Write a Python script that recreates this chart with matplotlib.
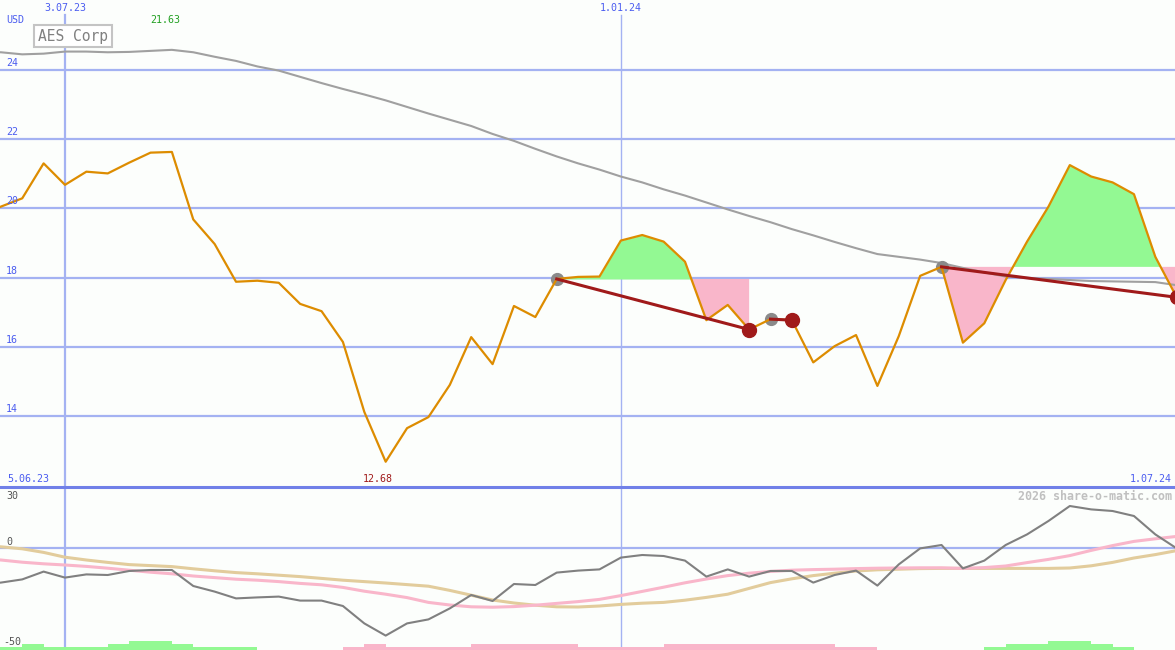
import numpy as np
import pandas as pd
import matplotlib
matplotlib.use("Agg")
import matplotlib.pyplot as plt

# weekly closes, starting 5.06.23
start_date = "2023-06-05"
price = [19.8, 20.05, 20.29, 21.30, 20.68, 21.06, 21.01, 21.32, 21.61, 21.63,
         19.68, 18.97, 17.88, 17.91, 17.85, 17.24, 17.03, 16.14, 14.12, 12.68,
         13.65, 13.97, 14.90, 16.28, 15.50, 17.18, 16.86, 17.96, 18.02, 18.03,
         19.07, 19.23, 19.04, 18.46, 16.77, 17.21, 16.50, 16.80, 16.77, 15.55,
         16.02, 16.34, 14.87, 16.31, 18.05, 18.31, 16.12, 16.68, 17.93, 19.04,
         20.05, 21.25, 20.92, 20.75, 20.41, 18.60, 17.43]
moving_avg = [24.50, 24.51, 24.45, 24.47, 24.53, 24.53, 24.51, 24.52, 24.55, 24.58,
              24.51, 24.38, 24.26, 24.10, 23.98, 23.80, 23.62, 23.45, 23.29, 23.12,
              22.93, 22.74, 22.56, 22.38, 22.15, 21.95, 21.72, 21.50, 21.30, 21.12,
              20.92, 20.75, 20.55, 20.37, 20.17, 19.97, 19.78, 19.60, 19.40, 19.22,
              19.03, 18.85, 18.68, 18.60, 18.52, 18.42, 18.28, 18.15, 18.03, 17.99,
              17.96, 17.93, 17.90, 17.89, 17.88, 17.87, 17.78]
oscillator = [-18.0, -17.3, -15.7, -11.8, -14.8, -13.2, -13.5, -11.5, -11.0, -11.0,
              -19.0, -21.8, -25.2, -24.7, -24.3, -26.3, -26.3, -29.0, -37.7, -43.8,
              -37.7, -35.7, -30.2, -23.5, -26.5, -18.0, -18.5, -12.3, -11.3, -10.7,
              -4.8, -3.5, -4.0, -6.3, -14.3, -10.7, -14.3, -11.5, -11.5, -17.3,
              -13.5, -11.3, -18.8, -8.2, -0.2, 1.5, -10.2, -6.3, 1.5, 6.8,
              13.5, 21.0, 19.3, 18.5, 16.0, 6.8, -0.2]
signal_fast = [-5.5, -6.0, -7.1, -7.9, -8.5, -9.2, -10.1, -11.1, -12.1, -12.9,
               -14.0, -14.8, -15.6, -16.1, -16.8, -17.7, -18.4, -19.7, -21.6, -23.1,
               -24.8, -27.2, -28.5, -29.4, -29.6, -29.3, -28.6, -27.7, -26.8, -25.7,
               -23.8, -21.7, -19.6, -17.4, -15.5, -13.8, -12.6, -11.7, -11.1, -10.8,
               -10.6, -10.3, -10.1, -10.0, -9.9, -9.9, -10.2, -9.8, -9.0, -7.3,
               -5.7, -3.8, -1.2, 1.2, 3.3, 4.6, 5.8]
signal_slow = [1.2, 0.6, -0.4, -2.2, -4.6, -6.0, -7.2, -8.3, -8.8, -9.3,
               -10.4, -11.4, -12.3, -12.9, -13.6, -14.3, -15.2, -16.1, -16.8, -17.5,
               -18.3, -19.1, -21.2, -23.6, -26.0, -27.5, -28.6, -29.4, -29.5, -29.0,
               -28.2, -27.6, -27.2, -26.1, -24.7, -23.1, -20.2, -17.3, -15.4, -13.8,
               -12.6, -11.5, -10.9, -10.6, -10.3, -10.2, -10.2, -10.2, -10.2, -10.2,
               -10.2, -10.0, -8.9, -7.2, -5.0, -3.3, -1.3]
hist = [1.5, 1.5, 3.0, 1.5, 1.5, 1.5, 3.0, 4.5, 4.5, 3.0,
        1.5, 1.5, 1.5, 0, 0, 0, 0, -1.5, -3.0, -1.5,
        -1.5, -1.5, -1.5, -3.0, -3.0, -3.0, -3.0, -3.0, -1.5, -1.5,
        -1.5, -1.5, -3.0, -3.0, -3.0, -3.0, -3.0, -3.0, -3.0, -3.0,
        -1.5, -1.5, 0, 0, 0, 0, 0, 1.5, 3.0, 3.0,
        4.5, 4.5, 3.0, 1.5, 0, 0, 0]
# (start index, end index) of the signal segments
segments = [(27, 36), (37, 38), (45, 56)]
price_ticks = [14, 16, 18, 20, 22, 24]
date_marks = ["2023-07-03", "2024-01-01"]
low_label, high_label = "12.68", "21.63"

dates = pd.date_range(start_date, periods=len(price), freq="7D")
price = np.array(price)

W, H = 1175, 650
fig = plt.figure(figsize=(W / 100, H / 100), dpi=100)
bg = "#fcfefc"
fig.patch.set_facecolor(bg)
split = 487
ax = fig.add_axes([0, (H - split) / H, 1, split / H])
ax2 = fig.add_axes([0, 0, 1, (H - split) / H])

day = pd.Timedelta(days=7)
x0 = dates[0] + 0.96 * day
x1 = dates[0] + 55.92 * day
grid_c = "#a4b2f2"
blue = "#4a5cf0"

for a in (ax, ax2):
    a.set_facecolor(bg)
    a.set_xlim(x0, x1)
    for s in a.spines.values():
        s.set_visible(False)
    a.set_xticks([])
    a.set_yticks([])

ax.set_ylim(11.95, 26.02)
ax2.set_ylim(-51, 30.5)

for t in price_ticks:
    ax.axhline(t, color=grid_c, lw=1.6, zorder=1)
for i, d in enumerate(date_marks):
    lw = 1.6 if i == 0 else 1.0
    ax.axvline(pd.Timestamp(d), ymax=0.969, color=grid_c, lw=lw, zorder=1)
    ax2.axvline(pd.Timestamp(d), color=grid_c, lw=lw, zorder=1)

# signal fills and trend lines
for s, e in segments:
    xs = dates[s:e + 1]
    ys = price[s:e + 1]
    base = price[s]
    ax.fill_between(xs, ys, base, where=ys >= base, interpolate=True,
                    color="#93f993", lw=0, zorder=2)
    ax.fill_between(xs, ys, base, where=ys <= base, interpolate=True,
                    color="#f9b6ca", lw=0, zorder=2)

ax.plot(dates, moving_avg, color="#a0a0a0", lw=1.5, zorder=3)
ax.plot([dates[s] for s, e in segments], [price[s] for s, e in segments], "o",
        color="#8a8a8a", ms=8.5, zorder=4)
ax.plot(dates, price, color="#dd8c00", lw=1.6, zorder=5)
for s, e in segments:
    ax.plot([dates[s], dates[e]], [price[s], price[e]], color="#a01a1a", lw=2.2, zorder=6)
ax.plot([dates[e] for s, e in segments], [price[e] for s, e in segments], "o",
        color="#a01a1a", ms=10, zorder=7)

# lower panel
ax2.axhline(0, color=grid_c, lw=1.6, zorder=1)
cols = ["#93f993" if v > 0 else "#f9b6ca" for v in hist]
ax2.bar(dates, np.abs(hist), width=7, bottom=-51, align="edge", color=cols, lw=0, zorder=2)
ax2.plot(dates, signal_slow, color="#e2cc9c", lw=2.2, zorder=3)
ax2.plot(dates, signal_fast, color="#f9b6ca", lw=2.2, zorder=3)
ax2.plot(dates, oscillator, color="#808080", lw=1.5, zorder=4)

fig.add_artist(plt.Line2D([0, 1], [(H - split) / H] * 2, color="#7080e8", lw=2.2))

mono = "DejaVu Sans Mono"


def txt(x, y, s, color=blue, size=7.2, ha="left", **kw):
    fig.text(x / W, 1 - y / H, s, color=color, fontsize=size, ha=ha, va="center",
             family=mono, **kw)


txt(6, 20, "USD")
txt(65, 8, "3.07.23", ha="center")
txt(621, 8, "1.01.24", ha="center")
txt(165, 20, high_label, color="#22a022", ha="center")
for t in price_ticks:
    y = 70 + (24 - t) * 34.6 - 7
    txt(6, y, str(t))
txt(7, 479, "5.06.23")
txt(378, 479, low_label, color="#a01a1a", ha="center")
txt(1172, 479, "1.07.24", ha="right")
txt(1172, 496, "2026 share-o-matic.com", color="#c0c0c0", size=8.4, ha="right",
    weight="bold")
txt(6, 496, "30", color="#555555")
txt(6, 542, "0", color="#555555")
txt(3, 642, "-50", color="#555555")
txt(38, 36, "AES Corp", color="#808080", size=10.5,
    bbox=dict(boxstyle="square,pad=0.25", fc="white", ec="#c4c4c4", lw=1.5))

fig.savefig("out.png", dpi=100, facecolor=bg)
